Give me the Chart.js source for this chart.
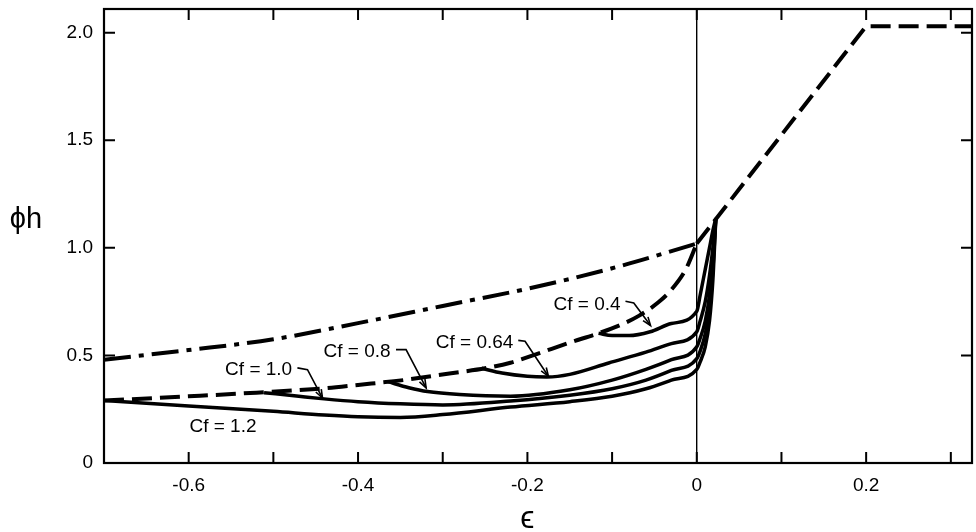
<!DOCTYPE html>
<html>
<head>
<meta charset="utf-8">
<script src="https://cdn.jsdelivr.net/npm/chart.js@4.4.0/dist/chart.umd.min.js"></script>
<style>
  html, body { margin: 0; padding: 0; background: #fff; }
</style>
</head>
<body>
<canvas id="chart" width="976" height="532"></canvas>
<script>
// values: x = strain (epsilon), y = phi*h

// dashed envelope, curved part up to 0
const envelopeX = [-0.7, -0.6, -0.52, -0.44, -0.4, -0.345, -0.29, -0.25, -0.22, -0.19, -0.15, -0.116, -0.09, -0.068, -0.045, -0.03, -0.013, 0];
const envelopeY = [0.29, 0.31, 0.327, 0.347, 0.363, 0.386, 0.417, 0.44, 0.466, 0.505, 0.56, 0.603, 0.642, 0.685, 0.748, 0.805, 0.9, 1.02];
// dashed envelope, straight ramp and plateau
const rampX = [0, 0.2, 0.325];
const rampY = [1.02, 2.03, 2.03];

// dash-dot upper curve
const upperX = [-0.7, -0.6, -0.5, -0.4, -0.3, -0.2, -0.1, 0];
const upperY = [0.48, 0.525, 0.575, 0.65, 0.73, 0.81, 0.905, 1.02];

// solid Cf curves
const cf12X = [-0.7, -0.6, -0.5, -0.44, -0.4, -0.35, -0.3, -0.22, -0.15, -0.1, -0.06, -0.03, 0, 0.004, 0.01, 0.015, 0.019, 0.0225];
const cf12Y = [0.29, 0.265, 0.24, 0.223, 0.215, 0.212, 0.225, 0.26, 0.285, 0.31, 0.345, 0.385, 0.435, 0.47, 0.54, 0.66, 0.85, 1.138];

const cf10X = [-0.511, -0.47, -0.44, -0.4, -0.35, -0.3, -0.22, -0.15, -0.1, -0.06, -0.03, 0, 0.004, 0.01, 0.015, 0.019, 0.0225];
const cf10Y = [0.327, 0.31, 0.298, 0.285, 0.275, 0.27, 0.288, 0.315, 0.345, 0.385, 0.43, 0.485, 0.52, 0.6, 0.72, 0.9, 1.138];

const cf08X = [-0.365, -0.34, -0.318, -0.28, -0.22, -0.15, -0.1, -0.06, -0.03, 0, 0.004, 0.01, 0.015, 0.019, 0.0225];
const cf08Y = [0.378, 0.35, 0.332, 0.318, 0.31, 0.34, 0.385, 0.435, 0.48, 0.54, 0.58, 0.66, 0.78, 0.95, 1.138];

const cf064X = [-0.254, -0.23, -0.2, -0.177, -0.15, -0.104, -0.06, -0.03, 0, 0.004, 0.01, 0.015, 0.019, 0.0225];
const cf064Y = [0.44, 0.418, 0.403, 0.4, 0.412, 0.465, 0.515, 0.555, 0.61, 0.66, 0.75, 0.87, 1.0, 1.138];

const cf04X = [-0.116, -0.1, -0.08, -0.055, -0.03, 0, 0.004, 0.01, 0.015, 0.019, 0.0225];
const cf04Y = [0.603, 0.592, 0.592, 0.61, 0.648, 0.705, 0.78, 0.9, 1.0, 1.08, 1.138];

const xTickLabels = ["-0.6", "-0.4", "-0.2", "0", "0.2"];
const yTickLabels = ["0", "0.5", "1.0", "1.5", "2.0"];

// curve labels with their arrows, in data units
const notes = [
  { text: "Cf = 0.4", x: -0.1295, y: 0.736, leader: [[-0.0842, 0.752], [-0.0744, 0.744], [-0.0546, 0.639]] },
  { text: "Cf = 0.64", x: -0.2624, y: 0.56, leader: [[-0.2108, 0.570], [-0.2028, 0.566], [-0.1752, 0.403]] },
  { text: "Cf = 0.8", x: -0.4012, y: 0.518, leader: [[-0.3552, 0.527], [-0.3433, 0.527], [-0.3196, 0.349]] },
  { text: "Cf = 1.0", x: -0.5174, y: 0.434, leader: [[-0.4716, 0.442], [-0.4597, 0.434], [-0.442, 0.302]] },
  { text: "Cf = 1.2", x: -0.5595, y: 0.169, leader: null }
];

const FONT = "'Liberation Sans', Arial, sans-serif";

function pts(xs, ys) {
  return xs.map((x, i) => ({ x: x, y: ys[i] }));
}

function line(xs, ys, width, dash, smooth) {
  return {
    data: pts(xs, ys),
    borderColor: "#000",
    borderWidth: width,
    borderDash: dash,
    pointRadius: 0,
    showLine: true,
    tension: 0,
    cubicInterpolationMode: smooth ? "monotone" : "default"
  };
}

// frame, inward ticks, axis titles and curve labels
const decorations = {
  id: "decorations",
  afterDraw(chart) {
    const ctx = chart.ctx;
    const a = chart.chartArea;
    const xs = chart.scales.x;
    const ys = chart.scales.y;
    ctx.save();
    ctx.strokeStyle = "#000";
    ctx.lineWidth = 2.2;
    ctx.strokeRect(a.left, a.top, a.right - a.left, a.bottom - a.top);

    ctx.lineWidth = 2;
    const tl = 11;
    xs.ticks.forEach(t => {
      const px = xs.getPixelForValue(t.value);
      if (px <= a.left + 2 || px >= a.right - 2) return;
      ctx.beginPath();
      ctx.moveTo(px, a.bottom); ctx.lineTo(px, a.bottom - tl);
      ctx.moveTo(px, a.top); ctx.lineTo(px, a.top + tl);
      ctx.stroke();
    });
    ys.ticks.forEach(t => {
      const py = ys.getPixelForValue(t.value);
      if (py >= a.bottom - 2 || py <= a.top + 2) return;
      ctx.beginPath();
      ctx.moveTo(a.left, py); ctx.lineTo(a.left + tl, py);
      ctx.moveTo(a.right, py); ctx.lineTo(a.right - tl, py);
      ctx.stroke();
    });

    ctx.fillStyle = "#000";
    ctx.textBaseline = "middle";
    ctx.textAlign = "center";
    ctx.font = "29px " + FONT;
    ctx.fillText("ϕh", a.left - 78, ys.getPixelForValue(1.13));
    ctx.font = "32px " + FONT;
    ctx.fillText("ϵ", xs.getPixelForValue(-0.2), a.bottom + 56);

    ctx.font = "19px " + FONT;
    ctx.lineWidth = 1.6;
    notes.forEach(n => {
      ctx.fillText(n.text, xs.getPixelForValue(n.x), ys.getPixelForValue(n.y));
      if (!n.leader) return;
      const p = n.leader.map(q => [xs.getPixelForValue(q[0]), ys.getPixelForValue(q[1])]);
      ctx.beginPath();
      ctx.moveTo(p[0][0], p[0][1]);
      for (let i = 1; i < p.length; i++) ctx.lineTo(p[i][0], p[i][1]);
      ctx.stroke();
      const tip = p[p.length - 1], prev = p[p.length - 2];
      const ang = Math.atan2(tip[1] - prev[1], tip[0] - prev[0]);
      ctx.beginPath();
      ctx.moveTo(tip[0] - 9 * Math.cos(ang - 0.35), tip[1] - 9 * Math.sin(ang - 0.35));
      ctx.lineTo(tip[0], tip[1]);
      ctx.lineTo(tip[0] - 9 * Math.cos(ang + 0.35), tip[1] - 9 * Math.sin(ang + 0.35));
      ctx.stroke();
    });
    ctx.restore();
  }
};

Chart.defaults.font.family = FONT;
Chart.defaults.color = "#000";

new Chart(document.getElementById("chart"), {
  type: "scatter",
  data: {
    datasets: [
      line(upperX, upperY, 4, [27, 8, 5, 8], true),
      line(envelopeX, envelopeY, 4, [20, 8], true),
      line(rampX, rampY, 4, [20, 8], false),
      line(cf12X, cf12Y, 3.5, [], true),
      line(cf10X, cf10Y, 3.5, [], true),
      line(cf08X, cf08Y, 3.5, [], true),
      line(cf064X, cf064Y, 3.5, [], true),
      line(cf04X, cf04Y, 3.5, [], true)
    ]
  },
  options: {
    responsive: false,
    animation: false,
    layout: { padding: { top: 9, right: 4, left: 0, bottom: 0 } },
    plugins: { legend: { display: false }, tooltip: { enabled: false } },
    scales: {
      x: {
        type: "linear",
        min: -0.7,
        max: 0.325,
        afterFit: s => { s.height = 69; s.paddingLeft = 0; s.paddingRight = 0; },
        border: { display: false },
        grid: {
          drawTicks: false,
          lineWidth: 1.4,
          color: c => (c.tick && Math.abs(c.tick.value) < 1e-9 ? "#000" : "rgba(0,0,0,0)")
        },
        ticks: {
          stepSize: 0.1,
          includeBounds: false,
          maxRotation: 0,
          autoSkip: false,
          padding: 11,
          font: { size: 19 },
          callback: v => {
            const k = Math.round(v * 10);
            return xTickLabels.find(l => Math.round(parseFloat(l) * 10) === k && k % 2 === 0) || "";
          }
        }
      },
      y: {
        type: "linear",
        min: 0,
        max: 2.11,
        afterFit: s => { s.width = 104; s.paddingTop = 0; s.paddingBottom = 0; },
        border: { display: false },
        grid: { display: false, drawTicks: false },
        ticks: {
          stepSize: 0.5,
          includeBounds: false,
          padding: 11,
          font: { size: 19 },
          callback: v => yTickLabels.find(l => Math.abs(parseFloat(l) - v) < 1e-9) || ""
        }
      }
    }
  },
  plugins: [decorations]
});
</script>
</body>
</html>
